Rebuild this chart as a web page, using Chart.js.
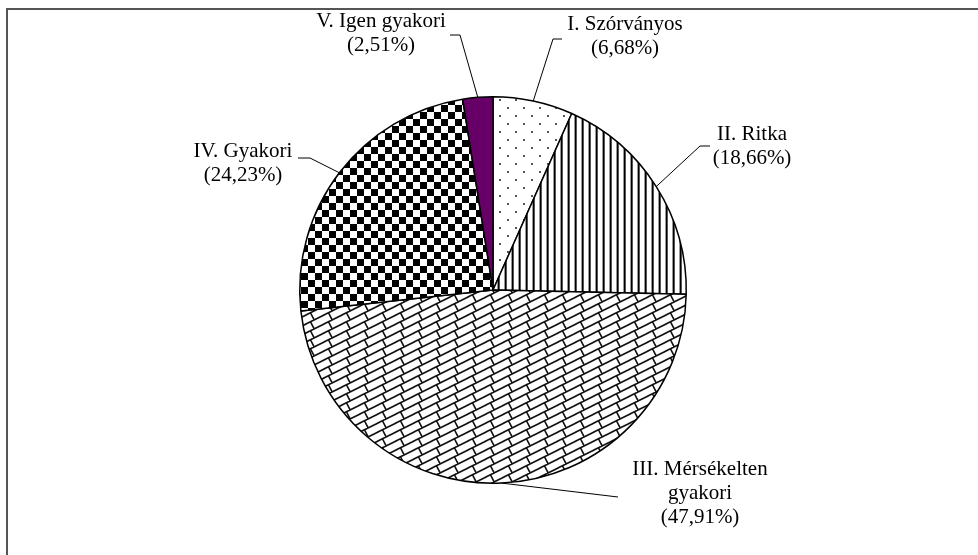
<!DOCTYPE html>
<html lang="hu">
<head>
  <meta charset="UTF-8">
  <title>Gyakorisági kategóriák</title>
  <script src="https://cdn.jsdelivr.net/npm/chart.js"></script>
  <style>
    html, body { margin: 0; padding: 0; background: #fff; }
    #wrap { width: 978px; height: 555px; }
  </style>
</head>
<body>
  <div id="wrap"><canvas id="chart" width="978" height="555"></canvas></div>

  <script>
    const categories = ['I. Szórványos', 'II. Ritka', 'III. Mérsékelten gyakori', 'IV. Gyakori', 'V. Igen gyakori'];
    const values = [6.68, 18.66, 47.91, 24.23, 2.51];
    const labelLines = [
      ['I. Szórványos', '(6,68%)'],
      ['II. Ritka', '(18,66%)'],
      ['III. Mérsékelten', 'gyakori', '(47,91%)'],
      ['IV. Gyakori', '(24,23%)'],
      ['V. Igen gyakori', '(2,51%)']
    ];

    // where each label sits and where its leader line bends (layout only)
    const labelPos = [
      { x: 625, y: 24, bend: [553, 39], end: [562, 39] },
      { x: 752, y: 134, bend: [700, 146], end: [710, 146] },
      { x: 700, y: 469, bend: [618, 497], end: [618, 497] },
      { x: 243, y: 151, bend: [310, 158], end: [298, 158] },
      { x: 381, y: 21, bend: [460, 35], end: [450, 35] }
    ];

    const ctx = document.getElementById('chart').getContext('2d');

    function makePattern(w, h, draw) {
      const c = document.createElement('canvas');
      c.width = w; c.height = h;
      const g = c.getContext('2d');
      g.fillStyle = '#fff';
      g.fillRect(0, 0, w, h);
      draw(g);
      return ctx.createPattern(c, 'repeat');
    }

    const dots = makePattern(16, 16, g => {
      g.fillStyle = '#555';
      g.fillRect(3, 3, 2, 2);
      g.fillRect(11, 11, 2, 2);
    });
    const vlines = makePattern(7, 4, g => {
      g.fillStyle = '#999';
      g.fillRect(0, 0, 1, 4);
      g.fillStyle = '#000';
      g.fillRect(1, 0, 1, 4);
      g.fillStyle = '#555';
      g.fillRect(2, 0, 1, 4);
    });
    const bricks = makePattern(18, 9, g => {
      g.strokeStyle = '#111';
      g.lineWidth = 1.6;
      g.beginPath();
      for (const dy of [-9, 0, 9]) {
        g.moveTo(-2, 10 + dy); g.lineTo(20, -1 + dy);
      }
      for (const dy of [-9, 0]) {
        g.moveTo(4.5, 6.75 + dy); g.lineTo(8.1, 13.95 + dy);
      }
      g.stroke();
    });
    const checker = makePattern(14, 14, g => {
      g.fillStyle = '#000';
      g.fillRect(0, 0, 7, 7);
      g.fillRect(7, 7, 7, 7);
    });

    const fills = [dots, vlines, bricks, checker, '#660066'];

    const frame = {
      id: 'frame',
      beforeDraw(chart) {
        const c = chart.ctx;
        c.save();
        c.strokeStyle = '#555';
        c.lineWidth = 2;
        c.beginPath();
        c.moveTo(7, 560); c.lineTo(7, 9); c.lineTo(990, 9);
        c.stroke();
        c.restore();
      }
    };

    const leaderLabels = {
      id: 'leaderLabels',
      afterDraw(chart) {
        const c = chart.ctx;
        const arcs = chart.getDatasetMeta(0).data;
        c.save();
        c.strokeStyle = '#000';
        c.lineWidth = 1;
        c.fillStyle = '#000';
        c.font = '21px "Liberation Serif", "Times New Roman", serif';
        c.textAlign = 'center';
        c.textBaseline = 'middle';
        arcs.forEach((arc, i) => {
          const p = arc.getProps(['x', 'y', 'startAngle', 'endAngle', 'outerRadius'], true);
          const mid = (p.startAngle + p.endAngle) / 2;
          const ax = p.x + Math.cos(mid) * p.outerRadius;
          const ay = p.y + Math.sin(mid) * p.outerRadius;
          const L = labelPos[i];
          c.beginPath();
          c.moveTo(ax, ay);
          c.lineTo(L.bend[0], L.bend[1]);
          c.lineTo(L.end[0], L.end[1]);
          c.stroke();
          labelLines[i].forEach((t, k) => c.fillText(t, L.x, L.y + k * 24));
        });
        c.restore();
      }
    };

    new Chart(ctx, {
      type: 'pie',
      data: {
        labels: categories,
        datasets: [{
          data: values,
          backgroundColor: fills,
          borderColor: '#000',
          borderWidth: 1.5
        }]
      },
      options: {
        responsive: false,
        animation: false,
        layout: { padding: { left: 299, right: 291, top: 96, bottom: 71 } },
        plugins: {
          legend: { display: false },
          tooltip: { enabled: false }
        }
      },
      plugins: [frame, leaderLabels]
    });
  </script>
</body>
</html>
